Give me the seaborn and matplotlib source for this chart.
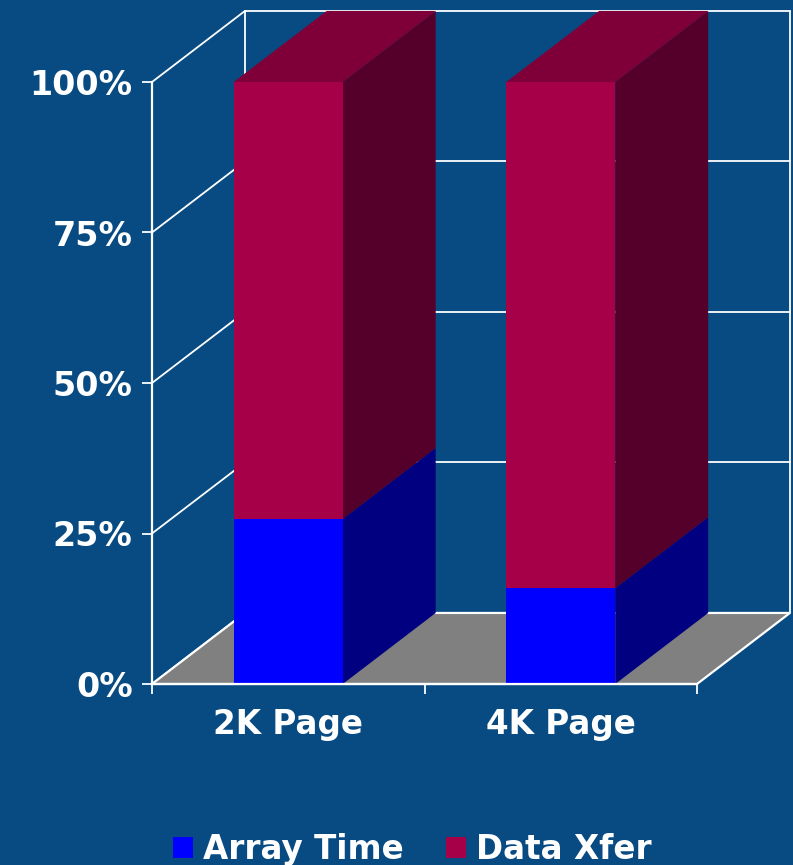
import numpy as np
import matplotlib
matplotlib.use("Agg")
import matplotlib.pyplot as plt
import matplotlib.patches as mpatches
import seaborn as sns

BG = "#084B83"
BLUE = "#0000FF"
BLUE_SIDE = "#000080"
CRIMSON = "#A50048"
CRIMSON_TOP = "#7F0038"
CRIMSON_SIDE = "#55002A"
FLOOR = "#808080"
WHITE = "#FFFFFF"

categories = ["2K Page", "4K Page"]
array_time = [27.4, 15.9]
data_xfer = [72.6, 84.1]
yticks = [0, 25, 50, 75, 100]
ytick_labels = ["0%", "25%", "50%", "75%", "100%"]
series = ["Array Time", "Data Xfer"]

# depth of the fake 3D box, in data units
DX = 0.341
DY = 11.8

sns.set_style("white")
plt.rcParams["font.family"] = ["DejaVu Sans"]
plt.rcParams["font.weight"] = "bold"

fig = plt.figure(figsize=(7.93, 8.65), dpi=100, facecolor=BG)
ax = fig.add_axes([152 / 793, 181 / 865, 545 / 793, 602 / 865])
ax.set_facecolor("none")

totals = [a + d for a, d in zip(array_time, data_xfer)]
sns.barplot(x=categories, y=totals, color=CRIMSON, saturation=1, width=0.4,
            linewidth=0, ax=ax, zorder=3)
sns.barplot(x=categories, y=array_time, color=BLUE, saturation=1, width=0.4,
            linewidth=0, ax=ax, zorder=3)

ax.set_xlim(-0.5, 1.5)
ax.set_ylim(0, 100)

# back wall grid and floor
x0, x1 = -0.5, 1.5
for lv in yticks:
    ax.plot([x0, x0 + DX], [lv, lv + DY], color=WHITE, lw=1.3,
            clip_on=False, zorder=1)
    if lv > 0:
        ax.plot([x0 + DX, x1 + DX], [lv + DY, lv + DY], color=WHITE, lw=1.3,
                clip_on=False, zorder=0.5)
ax.plot([x0 + DX, x0 + DX], [DY, 100 + DY], color=WHITE, lw=1.3,
        clip_on=False, zorder=0.5)
ax.plot([x1 + DX, x1 + DX], [DY, 100 + DY], color=WHITE, lw=1.3,
        clip_on=False, zorder=0.5)
floor = mpatches.Polygon([(x0, 0), (x1, 0), (x1 + DX, DY), (x0 + DX, DY)],
                         closed=True, facecolor=FLOOR, edgecolor=WHITE,
                         lw=1.6, clip_on=False, zorder=1)
ax.add_patch(floor)

# side and top faces of each bar
n = len(categories)
for i in range(n):
    bar = ax.patches[i]
    left = bar.get_x()
    right = left + bar.get_width()
    segs = [(0, array_time[i], BLUE_SIDE),
            (array_time[i], totals[i], CRIMSON_SIDE)]
    for lo, hi, col in segs:
        side = mpatches.Polygon([(right, lo), (right + DX, lo + DY),
                                 (right + DX, hi + DY), (right, hi)],
                                closed=True, facecolor=col, edgecolor="none",
                                clip_on=False, zorder=2.5)
        ax.add_patch(side)
    top = mpatches.Polygon([(left, totals[i]), (left + DX, totals[i] + DY),
                            (right + DX, totals[i] + DY), (right, totals[i])],
                           closed=True, facecolor=CRIMSON_TOP, edgecolor="none",
                           clip_on=False, zorder=2.5)
    ax.add_patch(top)

for s in ["top", "right"]:
    ax.spines[s].set_visible(False)
for s in ["left", "bottom"]:
    ax.spines[s].set_color(WHITE)
    ax.spines[s].set_linewidth(1.6)
    ax.spines[s].set_zorder(4)

ax.set_yticks(yticks, ytick_labels)
ax.set_xticks([-0.5, 0.5, 1.5], ["", "", ""])
ax.set_xticks([0, 1], categories, minor=True)
ax.tick_params(axis="y", direction="out", length=7, width=1.3, color=WHITE,
               labelcolor=WHITE, labelsize=24, pad=7, left=True)
ax.tick_params(axis="x", which="major", direction="out", length=7, width=1.3,
               color=WHITE, bottom=True)
ax.tick_params(axis="x", which="minor", length=0, labelcolor=WHITE,
               labelsize=23.5, pad=17)
for lab in ax.get_yticklabels() + ax.get_xticklabels(minor=True):
    lab.set_fontweight("bold")
ax.set_xlabel("")
ax.set_ylabel("")

handles = [mpatches.Patch(facecolor=BLUE, edgecolor="none"),
           mpatches.Patch(facecolor=CRIMSON, edgecolor="none")]
leg = fig.legend(handles, series, loc="center", bbox_to_anchor=(0.52, 0.018),
                 ncol=2, frameon=False, handlelength=0.62,
                 handleheight=0.62, handletextpad=0.3, columnspacing=1.3,
                 prop={"weight": "bold", "size": 23.5})
for t in leg.get_texts():
    t.set_color(WHITE)

fig.savefig("out.png", dpi=100, facecolor=BG)
